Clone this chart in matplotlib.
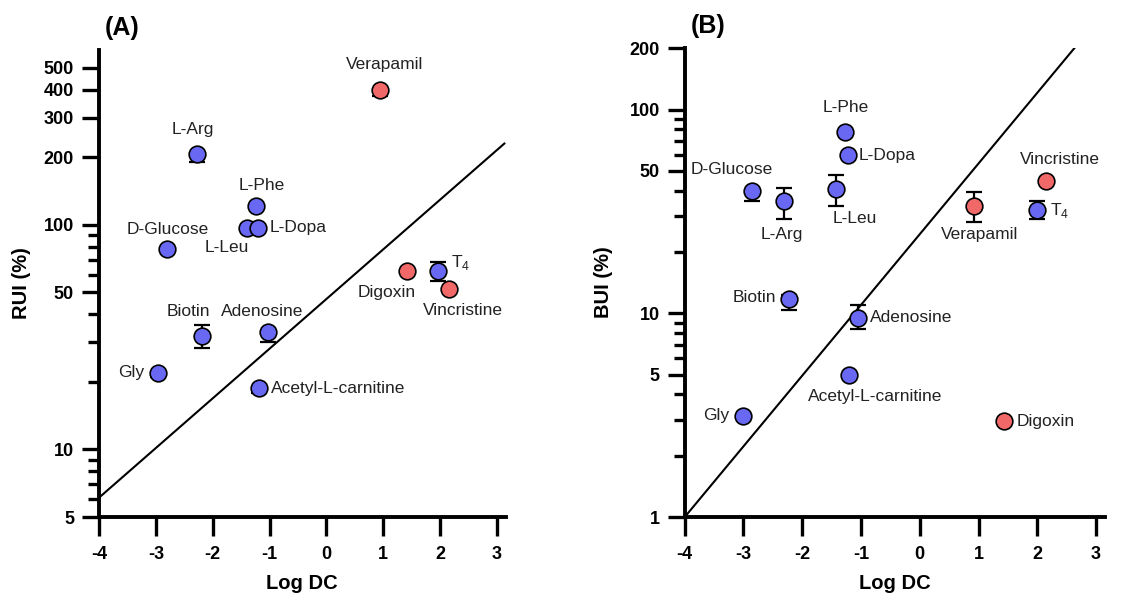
import matplotlib.pyplot as plt
from matplotlib.ticker import FixedLocator, FixedFormatter, NullFormatter

plt.rcParams['font.family'] = ['Liberation Sans', 'DejaVu Sans']
plt.rcParams['mathtext.fontset'] = 'custom'
plt.rcParams['mathtext.rm'] = 'Liberation Sans'

BLUE = '#6868f2'
RED = '#f06868'

# ---- panel A data (RUI) ----
a_names = ['Verapamil', 'L-Arg', 'L-Phe', 'L-Leu', 'L-Dopa', 'D-Glucose', 'Digoxin',
           'T$_\\mathregular{4}$', 'Vincristine', 'Biotin', 'Adenosine', 'Gly', 'Acetyl-L-carnitine']
a_x = [0.94, -2.28, -1.24, -1.40, -1.21, -2.80, 1.41, 1.97, 2.15, -2.19, -1.03, -2.96, -1.19]
a_y = [400, 206, 121, 97, 97, 78, 62, 62, 52, 32, 33.3, 22, 18.7]
a_lo = [375, 190, 121, 97, 97, 78, 62, 56, 52, 28.3, 30.0, 21, 17.8]
a_hi = [400, 206, 121, 97, 97, 78, 62, 68, 52, 35.7, 33.3, 22, 18.7]
a_red = [True, False, False, False, False, False, True, False, True, False, False, False, False]
a_line_x = [-4, 3.13]
a_line_y = [6.1, 230]

# ---- panel B data (BUI) ----
b_names = ['L-Phe', 'L-Dopa', 'D-Glucose', 'L-Arg', 'L-Leu', 'Verapamil', 'Vincristine',
           'T$_\\mathregular{4}$', 'Biotin', 'Adenosine', 'Acetyl-L-carnitine', 'Gly', 'Digoxin']
b_x = [-1.27, -1.23, -2.85, -2.31, -1.42, 0.92, 2.14, 1.99, -2.23, -1.05, -1.21, -3.0, 1.43]
b_y = [78, 59.6, 39.8, 35.5, 40.8, 33.5, 44.6, 32.3, 11.7, 9.5, 5.0, 3.15, 2.95]
b_lo = [78, 59.6, 35.7, 29.0, 33.8, 28.1, 44.6, 29.0, 10.4, 8.4, 4.8, 3.15, 2.85]
b_hi = [78, 59.6, 39.8, 41.2, 47.5, 39.4, 44.6, 35.7, 12.3, 11.0, 5.0, 3.15, 2.95]
b_red = [False, False, False, False, False, True, True, False, False, False, False, False, True]
b_line_x = [-4, 2.72]
b_line_y = [1, 215]

# label offsets in pixels (dx, dy, ha)
a_offs = [(5, 25, 'center'), (-4, 25, 'center'), (6, 21, 'center'), (-20, -20, 'center'),
          (12, 0, 'left'), (0, 20, 'center'), (-20, -21, 'center'), (13, 9, 'left'),
          (14, -22, 'center'), (-14, 24, 'center'), (-6, 21, 'center'), (-14, 0, 'right'),
          (12, 0, 'left')]
b_offs = [(1, 24, 'center'), (11, 0, 'left'), (-21, 22, 'center'), (-2, -33, 'center'),
          (18, -30, 'center'), (6, -28, 'center'), (14, 21, 'center'), (13, -1, 'left'),
          (-13, 2, 'right'), (12, 0, 'left'), (26, -22, 'center'), (-14, 0, 'right'),
          (13, 0, 'left')]

x_ticks = [-4, -3, -2, -1, 0, 1, 2, 3]


def draw_panel(ax, names, xs, ys, lo, hi, red, lx, ly, offs,
               ylim, ymajor, yminor, ylabel, letter, ylabpad):
    ax.plot(lx, ly, color='black', lw=1.5, zorder=1)
    for i in range(len(xs)):
        err = [[ys[i] - lo[i]], [hi[i] - ys[i]]]
        ax.errorbar(xs[i], ys[i], yerr=err, fmt='none', ecolor='black',
                    elinewidth=1.6, capsize=6, capthick=1.6, zorder=2)
        ax.plot(xs[i], ys[i], 'o', ms=12, mfc=RED if red[i] else BLUE,
                mec='black', mew=1.2, zorder=3)
        dx, dy, ha = offs[i]
        ax.annotate(names[i], (xs[i], ys[i]), xytext=(dx, dy), textcoords='offset pixels',
                    ha=ha, va='center', fontsize=12.5, color='#222222')

    ax.set_yscale('log')
    ax.set_xlim(-4, 3.15)
    ax.set_ylim(*ylim)
    ax.yaxis.set_major_locator(FixedLocator(ymajor))
    ax.yaxis.set_major_formatter(FixedFormatter([str(v) for v in ymajor]))
    ax.yaxis.set_minor_locator(FixedLocator(yminor))
    ax.yaxis.set_minor_formatter(NullFormatter())
    ax.set_xticks(x_ticks)
    ax.set_xticklabels([str(t) for t in x_ticks])

    for s in ['top', 'right']:
        ax.spines[s].set_visible(False)
    for s in ['left', 'bottom']:
        ax.spines[s].set_linewidth(2.8)
    ax.tick_params(axis='x', length=14, width=2.4, pad=7)
    ax.tick_params(axis='y', which='major', length=12, width=2.4, pad=6)
    ax.tick_params(axis='y', which='minor', length=8, width=2.4)
    for lab in ax.get_xticklabels() + ax.get_yticklabels():
        lab.set_fontweight('bold')
        lab.set_fontsize(13)
    ax.set_xlabel('Log DC', fontsize=14.5, fontweight='bold', labelpad=8)
    ax.set_ylabel(ylabel, fontsize=14.5, fontweight='bold', labelpad=ylabpad)
    ax.text(0.015, 1.047, letter, transform=ax.transAxes, fontsize=18,
            fontweight='bold', va='center', ha='left')


fig = plt.figure(figsize=(11.45, 5.95), dpi=100)
ax1 = fig.add_axes([0.0865, 0.131, 0.355, 0.785])
ax2 = fig.add_axes([0.598, 0.131, 0.367, 0.788])

draw_panel(ax1, a_names, a_x, a_y, a_lo, a_hi, a_red, a_line_x, a_line_y, a_offs,
           (5, 600), [5, 10, 50, 100, 200, 300, 400, 500],
           [6, 7, 8, 9, 20, 30, 40, 60, 70, 80, 90], 'RUI (%)', '(A)', 9)
draw_panel(ax2, b_names, b_x, b_y, b_lo, b_hi, b_red, b_line_x, b_line_y, b_offs,
           (1, 200), [1, 5, 10, 50, 100, 200],
           [2, 3, 4, 6, 7, 8, 9, 20, 30, 40, 60, 70, 80, 90], 'BUI (%)', '(B)', 12)

fig.savefig('out.png', dpi=100)
